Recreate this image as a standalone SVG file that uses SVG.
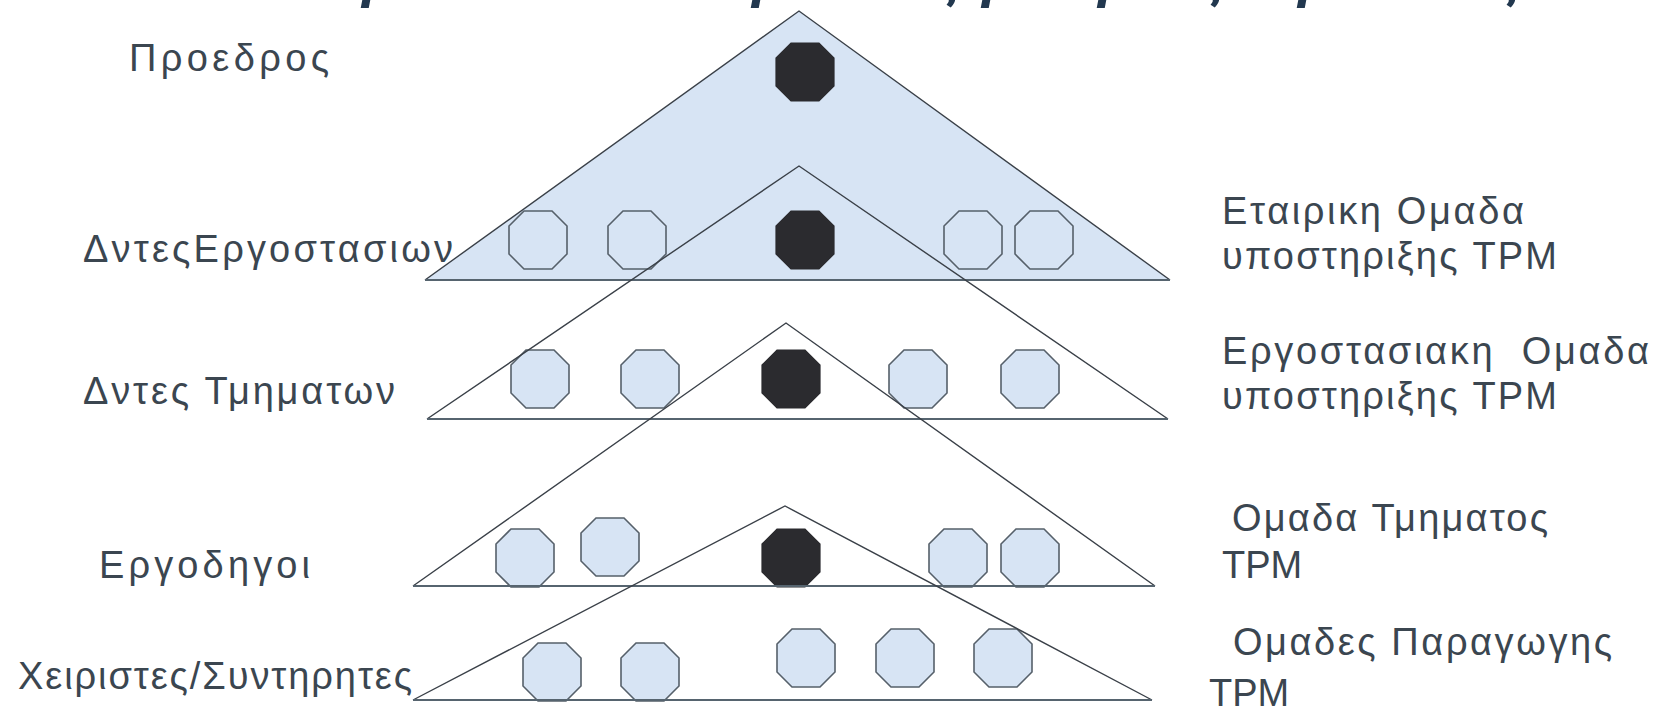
<svg xmlns="http://www.w3.org/2000/svg" width="1663" height="708" viewBox="0 0 1663 708">
<style>
  .lbl { font-family: "Liberation Sans", Arial, sans-serif; font-size: 38px; fill: #3b4650; }
  .title { font-family: "Liberation Sans", Arial, sans-serif; font-size: 56px; font-weight: bold; font-style: italic; fill: #22384f; }
  .tri { fill: none; stroke: #3a4048; stroke-width: 1.4; stroke-linejoin: miter; }
  .base { stroke: #56646f; stroke-width: 2.2; }
  .oct-dark { fill: #2b2b2f; stroke: #2b2b2f; stroke-width: 1.2; }
  .oct-light { fill: #d7e4f4; stroke: #56606a; stroke-width: 1.6; }
  .oct-open { fill: none; stroke: #56606a; stroke-width: 1.6; }
</style>
<defs>
  <polygon id="oct" points="-14,-29 14,-29 29,-14 29,14 14,29 -14,29 -29,14 -29,-14"/>
</defs>
<rect width="1663" height="708" fill="#ffffff"/>

<!-- cut-off title descenders -->
<text class="title" y="-4"><tspan x="362">ρ</tspan><tspan x="752">ρ</tspan><tspan x="930">ς</tspan><tspan x="982">ρ</tspan><tspan x="1098">ρ</tspan><tspan x="1194">ς</tspan><tspan x="1298">ρ</tspan><tspan x="1490">ς</tspan></text>

<!-- top triangle fill -->
<polygon id="tri1-fill" points="799,11 1170,280 425,280" fill="#d7e4f4"/>

<g id="nodes">
  <g id="row1"><use href="#oct" class="oct-dark" x="805" y="72"/></g>
  <g id="row2">
    <use href="#oct" class="oct-open" x="538" y="240"/>
    <use href="#oct" class="oct-open" x="637" y="240"/>
    <use href="#oct" class="oct-dark" x="805" y="240"/>
    <use href="#oct" class="oct-open" x="973" y="240"/>
    <use href="#oct" class="oct-open" x="1044" y="240"/>
  </g>
  <g id="row3">
    <use href="#oct" class="oct-light" x="540" y="379"/>
    <use href="#oct" class="oct-light" x="650" y="379"/>
    <use href="#oct" class="oct-dark" x="791" y="379"/>
    <use href="#oct" class="oct-light" x="918" y="379"/>
    <use href="#oct" class="oct-light" x="1030" y="379"/>
  </g>
  <g id="row4">
    <use href="#oct" class="oct-light" x="525" y="558"/>
    <use href="#oct" class="oct-light" x="610" y="547"/>
    <use href="#oct" class="oct-dark" x="791" y="558"/>
    <use href="#oct" class="oct-light" x="958" y="558"/>
    <use href="#oct" class="oct-light" x="1030" y="558"/>
  </g>
  <g id="row5">
    <use href="#oct" class="oct-light" x="552" y="672"/>
    <use href="#oct" class="oct-light" x="650" y="672"/>
    <use href="#oct" class="oct-light" x="806" y="658"/>
    <use href="#oct" class="oct-light" x="905" y="658"/>
    <use href="#oct" class="oct-light" x="1003" y="658"/>
  </g>
</g>

<g id="connectors">
  <polyline class="tri" points="425,280 799,11 1170,280"/>
  <line class="tri base" x1="425" y1="280" x2="1170" y2="280"/>
  <polyline class="tri" points="427,419 799,166 1168,419"/>
  <line class="tri base" x1="427" y1="419" x2="1168" y2="419"/>
  <polyline class="tri" points="413,586 786,323 1155,586"/>
  <line class="tri base" x1="413" y1="586" x2="1155" y2="586"/>
  <polyline class="tri" points="413,700 785,506 1152,700"/>
  <line class="tri base" x1="413" y1="700" x2="1152" y2="700"/>
</g>

<g id="left-labels">
  <text class="lbl" x="129" y="71" textLength="200" lengthAdjust="spacing">Προεδρος</text>
  <text class="lbl" x="83" y="262" textLength="370" lengthAdjust="spacing">ΔντεςΕργοστασιων</text>
  <text class="lbl" x="83" y="404" textLength="312" lengthAdjust="spacing">Δντες Τμηματων</text>
  <text class="lbl" x="99" y="578" textLength="211" lengthAdjust="spacing">Εργοδηγοι</text>
  <text class="lbl" x="18" y="689" textLength="394" lengthAdjust="spacing">Χειριστες/Συντηρητες</text>
</g>

<g id="right-labels">
  <text class="lbl" x="1222" y="224" textLength="302" lengthAdjust="spacing">Εταιρικη Ομαδα</text>
  <text class="lbl" x="1222" y="269" textLength="335" lengthAdjust="spacing">υποστηριξης TPM</text>
  <text class="lbl" x="1222" y="364" textLength="427" lengthAdjust="spacing" xml:space="preserve">Εργοστασιακη  Ομαδα</text>
  <text class="lbl" x="1222" y="409" textLength="335" lengthAdjust="spacing">υποστηριξης TPM</text>
  <text class="lbl" x="1232" y="531" textLength="316" lengthAdjust="spacing">Ομαδα Τμηματος</text>
  <text class="lbl" x="1222" y="578">TPM</text>
  <text class="lbl" x="1233" y="655" textLength="379" lengthAdjust="spacing">Ομαδες Παραγωγης</text>
  <text class="lbl" x="1209" y="706">TPM</text>
</g>
</svg>
